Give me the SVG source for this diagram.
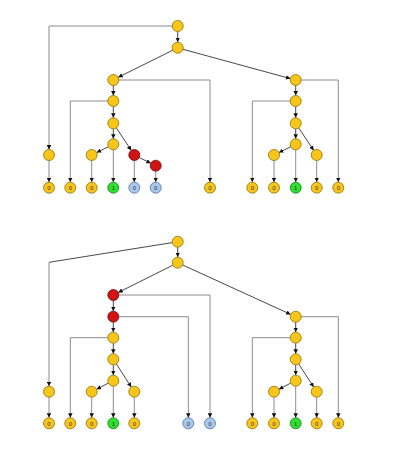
<svg xmlns="http://www.w3.org/2000/svg" width="400" height="474" viewBox="0 0 400 474">
<style>
.y{fill:#F8C51B;stroke:#8F7000;stroke-width:0.8}
.r{fill:#D01414;stroke:#6E0A0A;stroke-width:0.8}
.g{fill:#2CE02C;stroke:#1A7A1A;stroke-width:0.8}
.b{fill:#A9C8EE;stroke:#50709C;stroke-width:0.8}
text{font-family:"Liberation Sans",Arial,sans-serif;font-size:6px;fill:#333;text-anchor:middle}
.o{fill:none;stroke:#8c8c8c;stroke-width:1}
.d{fill:none;stroke:#333;stroke-width:0.9}
</style>
<defs>
<marker id="ah" viewBox="0 0 6 6" refX="6" refY="3" markerWidth="4.5" markerHeight="4.5" markerUnits="userSpaceOnUse" orient="auto">
<path d="M0,0 L6,3 L0,6 z" fill="#111"/>
</marker>
</defs>
<rect width="400" height="474" fill="#fff"/>
<g id="connectors" marker-end="url(#ah)">
<!-- top tree -->
<path class="o" d="M172.2,26 H49 V149.5"/>
<path class="d" d="M177.7,31.5 V42.2"/>
<path class="d" d="M173,50.1 L118.2,77.3"/>
<path class="d" d="M183,49.3 L290.4,78.6"/>
<path class="o" d="M118.8,80 H210 V182.2"/>
<path class="d" d="M113.3,85.5 V95.5"/>
<path class="o" d="M107.8,101 H70.3 V182.2"/>
<path class="d" d="M113.3,106.5 V117.8"/>
<path class="d" d="M113.3,128.8 V138.8"/>
<path class="d" d="M116.3,127.9 L131.3,150.4"/>
<path class="d" d="M139.2,157.5 L150.8,163.2"/>
<path class="d" d="M108.4,146.7 L96.6,152.6"/>
<path class="o" d="M113.3,149.8 V182.2"/>
<path class="o" d="M91.7,160.5 V182.2"/>
<path class="o" d="M134.3,160.5 V182.2"/>
<path class="o" d="M155.7,171.2 V182.2"/>
<path class="o" d="M49,160.5 V182.2"/>
<path class="o" d="M301.2,80 H338.3 V182.2"/>
<path class="d" d="M295.7,85.5 V95.5"/>
<path class="o" d="M290.2,101 H252.3 V182.2"/>
<path class="d" d="M295.7,106.5 V117.8"/>
<path class="d" d="M295.7,128.8 V138.8"/>
<path class="d" d="M298.7,127.9 L313.7,150.4"/>
<path class="d" d="M290.8,146.7 L278.9,152.6"/>
<path class="o" d="M295.7,149.8 V182.2"/>
<path class="o" d="M274,160.5 V182.2"/>
<path class="o" d="M316.7,160.5 V182.2"/>
<!-- bottom tree -->
<path class="d" d="M172.3,242.6 L49,262.3" marker-end="none"/>
<path class="o" d="M49,262.3 V386.2"/>
<path class="d" d="M177.7,247.2 V257.2"/>
<path class="d" d="M172.8,265.2 L118.2,292.5"/>
<path class="d" d="M182.7,265 L290.7,314.4"/>
<path class="d" d="M113.3,300.5 V311.2"/>
<path class="o" d="M118.8,295 H210 V417.8"/>
<path class="d" d="M113.3,322.2 V332.2"/>
<path class="o" d="M118.8,316.7 H188.3 V417.8"/>
<path class="o" d="M107.8,337.7 H70.3 V417.8"/>
<path class="d" d="M113.3,343.2 V353.8"/>
<path class="d" d="M113.3,364.8 V375.2"/>
<path class="d" d="M116.3,363.9 L131.3,387.1"/>
<path class="d" d="M108.4,383.1 L96.6,389.2"/>
<path class="o" d="M113.3,386.2 V417.8"/>
<path class="o" d="M91.7,397.2 V417.8"/>
<path class="o" d="M134.3,397.2 V417.8"/>
<path class="o" d="M49,397.2 V417.8"/>
<path class="o" d="M301.2,316.7 H338.3 V417.8"/>
<path class="d" d="M295.7,322.2 V332.2"/>
<path class="o" d="M290.2,337.7 H252.3 V417.8"/>
<path class="d" d="M295.7,343.2 V353.8"/>
<path class="d" d="M295.7,364.8 V375.2"/>
<path class="d" d="M298.7,363.9 L313.7,387.1"/>
<path class="d" d="M290.8,383.1 L278.9,389.2"/>
<path class="o" d="M295.7,386.2 V417.8"/>
<path class="o" d="M274,397.2 V417.8"/>
<path class="o" d="M316.7,397.2 V417.8"/>
</g>
<!-- top tree nodes -->
<g id="t0"><circle class="y" cx="177.7" cy="26" r="5.5"/></g>
<g id="t1"><circle class="y" cx="177.7" cy="47.7" r="5.5"/></g>
<g id="ta"><circle class="y" cx="113.3" cy="80" r="5.5"/></g>
<g id="ta1"><circle class="y" cx="113.3" cy="101" r="5.5"/></g>
<g id="ta2"><circle class="y" cx="113.3" cy="123.3" r="5.5"/></g>
<g id="ta3"><circle class="y" cx="113.3" cy="144.3" r="5.5"/></g>
<g id="tal"><circle class="y" cx="91.7" cy="155" r="5.5"/></g>
<g id="tr1"><circle class="r" cx="134.3" cy="155" r="5.5"/></g>
<g id="tr2"><circle class="r" cx="155.7" cy="165.7" r="5.5"/></g>
<g id="tl0"><circle class="y" cx="49" cy="155" r="5.5"/></g>
<g id="tb"><circle class="y" cx="295.7" cy="80" r="5.5"/></g>
<g id="tb1"><circle class="y" cx="295.7" cy="101" r="5.5"/></g>
<g id="tb2"><circle class="y" cx="295.7" cy="123.3" r="5.5"/></g>
<g id="tb3"><circle class="y" cx="295.7" cy="144.3" r="5.5"/></g>
<g id="tbl"><circle class="y" cx="274" cy="155" r="5.5"/></g>
<g id="tbr"><circle class="y" cx="316.7" cy="155" r="5.5"/></g>
<g id="tlf1"><circle class="y" cx="49" cy="187.7" r="5.5"/><text x="49" y="189.9">0</text></g>
<g id="tlf2"><circle class="y" cx="70.3" cy="187.7" r="5.5"/><text x="70.3" y="189.9">0</text></g>
<g id="tlf3"><circle class="y" cx="91.7" cy="187.7" r="5.5"/><text x="91.7" y="189.9">0</text></g>
<g id="tlf4"><circle class="g" cx="113.3" cy="187.7" r="5.5"/><text x="113.3" y="189.9">1</text></g>
<g id="tlf5"><circle class="b" cx="134.3" cy="187.7" r="5.5"/><text x="134.3" y="189.9">0</text></g>
<g id="tlf6"><circle class="b" cx="155.7" cy="187.7" r="5.5"/><text x="155.7" y="189.9">0</text></g>
<g id="tlf7"><circle class="y" cx="210" cy="187.7" r="5.5"/><text x="210" y="189.9">0</text></g>
<g id="tlf8"><circle class="y" cx="252.3" cy="187.7" r="5.5"/><text x="252.3" y="189.9">0</text></g>
<g id="tlf9"><circle class="y" cx="274" cy="187.7" r="5.5"/><text x="274" y="189.9">0</text></g>
<g id="tlf10"><circle class="g" cx="295.7" cy="187.7" r="5.5"/><text x="295.7" y="189.9">1</text></g>
<g id="tlf11"><circle class="y" cx="316.7" cy="187.7" r="5.5"/><text x="316.7" y="189.9">0</text></g>
<g id="tlf12"><circle class="y" cx="338.3" cy="187.7" r="5.5"/><text x="338.3" y="189.9">0</text></g>
<!-- bottom tree nodes -->
<g id="b0"><circle class="y" cx="177.7" cy="241.7" r="5.5"/></g>
<g id="b1"><circle class="y" cx="177.7" cy="262.7" r="5.5"/></g>
<g id="br1"><circle class="r" cx="113.3" cy="295" r="5.5"/></g>
<g id="br2"><circle class="r" cx="113.3" cy="316.7" r="5.5"/></g>
<g id="ba1"><circle class="y" cx="113.3" cy="337.7" r="5.5"/></g>
<g id="ba2"><circle class="y" cx="113.3" cy="359.3" r="5.5"/></g>
<g id="ba3"><circle class="y" cx="113.3" cy="380.7" r="5.5"/></g>
<g id="bal"><circle class="y" cx="91.7" cy="391.7" r="5.5"/></g>
<g id="bar"><circle class="y" cx="134.3" cy="391.7" r="5.5"/></g>
<g id="bl0"><circle class="y" cx="49" cy="391.7" r="5.5"/></g>
<g id="bb"><circle class="y" cx="295.7" cy="316.7" r="5.5"/></g>
<g id="bb1"><circle class="y" cx="295.7" cy="337.7" r="5.5"/></g>
<g id="bb2"><circle class="y" cx="295.7" cy="359.3" r="5.5"/></g>
<g id="bb3"><circle class="y" cx="295.7" cy="380.7" r="5.5"/></g>
<g id="bbl"><circle class="y" cx="274" cy="391.7" r="5.5"/></g>
<g id="bbr"><circle class="y" cx="316.7" cy="391.7" r="5.5"/></g>
<g id="blf1"><circle class="y" cx="49" cy="423.3" r="5.5"/><text x="49" y="425.5">0</text></g>
<g id="blf2"><circle class="y" cx="70.3" cy="423.3" r="5.5"/><text x="70.3" y="425.5">0</text></g>
<g id="blf3"><circle class="y" cx="91.7" cy="423.3" r="5.5"/><text x="91.7" y="425.5">0</text></g>
<g id="blf4"><circle class="g" cx="113.3" cy="423.3" r="5.5"/><text x="113.3" y="425.5">1</text></g>
<g id="blf5"><circle class="y" cx="134.3" cy="423.3" r="5.5"/><text x="134.3" y="425.5">0</text></g>
<g id="blf6"><circle class="b" cx="188.3" cy="423.3" r="5.5"/><text x="188.3" y="425.5">0</text></g>
<g id="blf7"><circle class="b" cx="210" cy="423.3" r="5.5"/><text x="210" y="425.5">0</text></g>
<g id="blf8"><circle class="y" cx="252.3" cy="423.3" r="5.5"/><text x="252.3" y="425.5">0</text></g>
<g id="blf9"><circle class="y" cx="274" cy="423.3" r="5.5"/><text x="274" y="425.5">0</text></g>
<g id="blf10"><circle class="g" cx="295.7" cy="423.3" r="5.5"/><text x="295.7" y="425.5">1</text></g>
<g id="blf11"><circle class="y" cx="316.7" cy="423.3" r="5.5"/><text x="316.7" y="425.5">0</text></g>
<g id="blf12"><circle class="y" cx="338.3" cy="423.3" r="5.5"/><text x="338.3" y="425.5">0</text></g>
</svg>
